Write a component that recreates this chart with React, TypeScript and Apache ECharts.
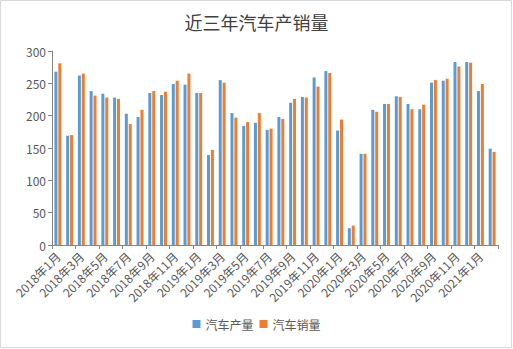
import React, { useEffect, useRef } from "react";
import * as echarts from "echarts";

const categories: string[] = [];
const years = [2018, 2019, 2020, 2021];
for (const y of years) {
  for (let m = 1; m <= 12; m++) {
    if (y === 2021 && m > 2) break;
    categories.push(`${y}年${m}月`);
  }
}

const production = [
  268, 169, 262, 238, 234, 228, 203, 198, 235, 232, 249, 248,
  235, 139, 255, 204, 184, 189, 178, 198, 220, 229, 259, 269,
  177, 26, 141, 209, 218, 230, 218, 210, 251, 254, 283, 283,
  238, 149,
];
const sales = [
  281, 170, 265, 231, 228, 226, 187, 209, 238, 237, 254, 265,
  235, 147, 251, 197, 190, 204, 180, 195, 226, 228, 245, 266,
  194, 30, 141, 206, 218, 229, 210, 217, 255, 257, 276, 282,
  249, 144,
];

const yTicks = { min: 0, max: 300, interval: 50 };

export default function App() {
  const ref = useRef<HTMLDivElement>(null);
  useEffect(() => {
    const chart = echarts.init(ref.current!, null, { renderer: "svg" });
    const font = "'Microsoft YaHei', 'Noto Sans CJK SC', sans-serif";
    chart.setOption({
      animation: false,
      backgroundColor: "#ffffff",
      textStyle: { fontFamily: font },
      title: {
        text: "近三年汽车产销量",
        left: "center",
        top: 8,
        textStyle: { fontSize: 18, fontWeight: "normal", color: "#404040", fontFamily: font },
      },
      graphic: [
        {
          type: "rect",
          shape: { x: 0.5, y: 0.5, width: 511, height: 347 },
          style: { fill: "none", stroke: "#d9d9d9", lineWidth: 1 },
          silent: true,
        },
      ],
      legend: {
        bottom: 14,
        left: "center",
        itemWidth: 8,
        itemHeight: 8,
        itemGap: 6,
        icon: "rect",
        textStyle: { fontSize: 12, color: "#595959", fontFamily: font },
        data: ["汽车产量", "汽车销量"],
      },
      grid: { left: 52, right: 15, top: 51, bottom: 104, containLabel: false },
      xAxis: {
        type: "category",
        data: categories,
        boundaryGap: true,
        axisLine: { lineStyle: { color: "#868686" } },
        axisTick: { show: true, interval: 1, length: 4, lineStyle: { color: "#868686" } },
        axisLabel: {
          interval: 1,
          rotate: 45,
          fontSize: 12,
          color: "#595959",
          margin: 9,
          fontFamily: font,
        },
      },
      yAxis: {
        type: "value",
        min: yTicks.min,
        max: yTicks.max,
        interval: yTicks.interval,
        splitLine: { show: false },
        axisLine: { show: true, lineStyle: { color: "#868686" } },
        axisTick: { show: true, length: 4, lineStyle: { color: "#868686" } },
        axisLabel: { fontSize: 12, color: "#595959", margin: 6, fontFamily: font },
      },
      series: [
        {
          name: "汽车产量",
          type: "bar",
          data: production,
          barWidth: 3,
          barGap: "30%",
          itemStyle: { color: "#5B9BD5" },
        },
        {
          name: "汽车销量",
          type: "bar",
          data: sales,
          barWidth: 3,
          barGap: "30%",
          itemStyle: { color: "#ED7D31" },
        },
      ],
    });
    return () => chart.dispose();
  }, []);
  return (
    <div
      ref={ref}
      style={{ position: "fixed", left: 0, top: 0, width: 513, height: 349 }}
    />
  );
}
